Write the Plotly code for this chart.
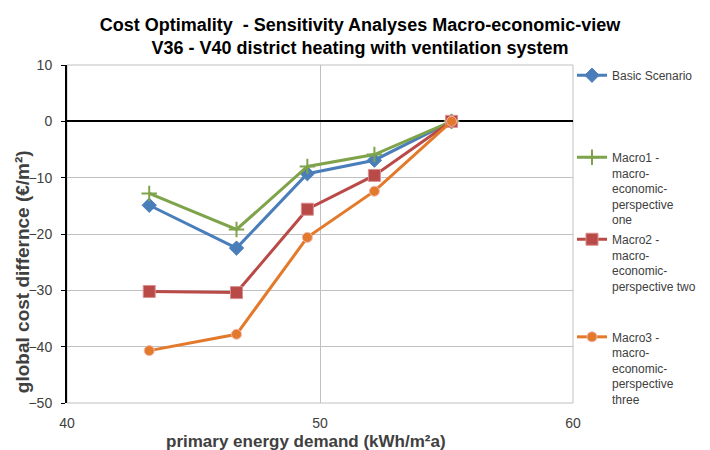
import plotly.graph_objects as go

energy = [43.25, 46.7, 49.5, 52.15, 55.2]
basic = [-14.9, -22.5, -9.3, -6.9, 0.0]
macro1 = [-12.8, -19.2, -8.0, -5.9, 0.0]
macro2 = [-30.2, -30.4, -15.6, -9.6, 0.0]
macro3 = [-40.7, -37.8, -20.6, -12.4, 0.0]

names = [
    "Basic Scenario<br> <br> <br> <br> ",
    "Macro1 -<br>macro-<br>economic-<br>perspective<br>one",
    "Macro2 -<br>macro-<br>economic-<br>perspective two<br> <br> ",
    "Macro3 -<br>macro-<br>economic-<br>perspective<br>three",
]
colors = ["#4A7EBB", "#7FA34A", "#B94A48", "#E3792B"]
symbols = ["diamond", "cross-thin", "square", "circle"]
sizes = [11, 11, 12, 10]
series = [basic, macro1, macro2, macro3]

fig = go.Figure()
for i, (nm, ys) in enumerate(zip(names, series)):
    mk = dict(symbol=symbols[i], size=sizes[i], color=colors[i])
    if symbols[i] == "cross-thin":
        mk["line"] = dict(color=colors[i], width=2)
    elif symbols[i] == "circle":
        mk["line"] = dict(color="#F2B8B0", width=1)
    elif symbols[i] == "square":
        mk["line"] = dict(color="#D89090", width=1)
    else:
        mk["line"] = dict(color=colors[i], width=1)
    fig.add_trace(go.Scatter(
        x=energy, y=ys, mode="lines+markers", name=nm,
        line=dict(color=colors[i], width=3), marker=mk,
        legendgroup=f"g{i}",
    ))

fig.update_layout(
    width=710, height=450,
    margin=dict(l=67, r=137, t=65, b=47, autoexpand=False),
    paper_bgcolor="white", plot_bgcolor="white",
    font=dict(family="Liberation Sans, Arial, sans-serif", size=12, color="#404040"),
    title=dict(
        text="<b>Cost Optimality  - Sensitivity Analyses Macro-economic-view<br>V36 - V40 district heating with ventilation system</b>",
        x=0.507, xref="container", xanchor="center",
        y=0.931, yref="container", yanchor="top",
        font=dict(size=18, color="black"),
    ),
    legend=dict(
        x=0.998, xanchor="left", y=1.012, yanchor="top",
        font=dict(size=12, color="#404040"),
        valign="top", tracegroupgap=1, itemwidth=30,
        bgcolor="rgba(0,0,0,0)", maxheight=445,
    ),
    showlegend=True,
    shapes=[
        dict(type="rect", xref="paper", yref="paper", x0=0, x1=1, y0=0, y1=1,
             line=dict(color="#C0C0C0", width=1), layer="below"),
    ],
    annotations=[
        dict(text="<b>global cost differnce (€/m²)</b>", textangle=-90,
             xref="paper", yref="paper", x=-0.089, y=0.39,
             xanchor="center", yanchor="middle", showarrow=False,
             font=dict(size=19, color="#404040")),
        dict(text="<b>primary energy demand (kWh/m²a)</b>",
             xref="paper", yref="paper", x=0.472, y=-0.114,
             xanchor="center", yanchor="middle", showarrow=False,
             font=dict(size=17, color="#404040")),
    ],
)
fig.update_xaxes(
    range=[40, 60], dtick=10, showgrid=True, gridcolor="#C0C0C0", gridwidth=1,
    zeroline=False, showline=False, ticks="", automargin=False,
    ticklabelstandoff=10,
    tickfont=dict(size=14, color="#404040"),
)
fig.update_yaxes(
    range=[-50, 10], dtick=10, showgrid=True, gridcolor="#C0C0C0", gridwidth=1,
    zeroline=True, zerolinecolor="black", zerolinewidth=2,
    showline=True, linecolor="black", linewidth=2, automargin=False,
    ticks="outside", ticklen=4, tickcolor="black", ticklabelstandoff=6,
    tickfont=dict(size=14, color="#404040"),
)
fig.write_html("out.html", config={"displayModeBar": False},
               post_script="document.body.style.margin='0px';")
